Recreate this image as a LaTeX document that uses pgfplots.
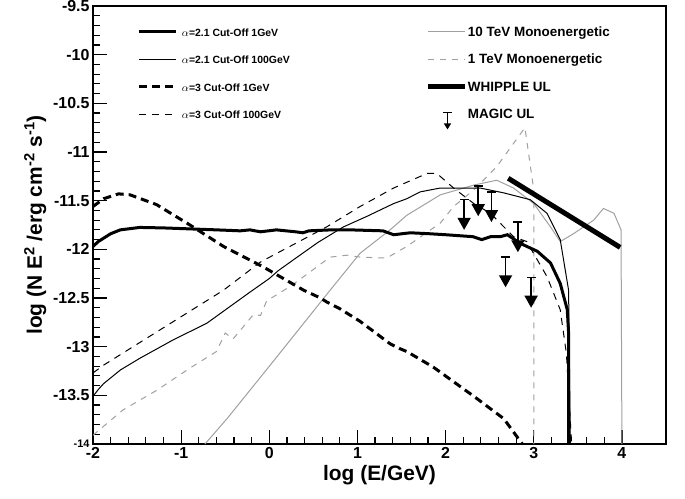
\documentclass[border=0pt]{standalone}
\usepackage{fontspec}
\setmainfont{Liberation Sans}
\usepackage{pgfplots}
\pgfplotsset{compat=1.18}
\usetikzlibrary{arrows.meta}
\definecolor{rootgray}{RGB}{160,160,160}

\begin{document}
\begin{tikzpicture}
\begin{axis}[
  at={(0bp,0bp)}, anchor=south west,
  scale only axis, width=573bp, height=438bp,
  xmin=-2, xmax=4.5, ymin=-14, ymax=-9.5,
  xtick={-2,-1,0,1,2,3,4},
  ytick={-14,-13.5,-13,-12.5,-12,-11.5,-11,-10.5,-10,-9.5},
  xticklabels={-2,-1,0,1,2,3,4},
  yticklabels={{\fontsize{11}{11}\selectfont -14},-13.5,-13,-12.5,-12,-11.5,-11,-10.5,-10,-9.5},
  minor x tick num=4, minor y tick num=4,
  tick pos=left, tick align=inside,
  major tick length=14bp, minor tick length=7bp,
  every tick/.style={black, line width=1.2bp},
  axis line style={line width=1.5bp},
  /pgf/number format/assume math mode=true,
  tick label style={font=\bfseries\fontsize{16}{16}\selectfont},
  label style={font=\bfseries\fontsize{21}{21}\selectfont},
  xlabel={log (E/GeV)},
  ylabel={log (N E\textsuperscript{2} /erg cm\textsuperscript{-2} s\textsuperscript{-1})},
  legend columns=2,
  legend cell align=left,
  legend image code/.code={\draw[#1] (0bp,0bp) -- (37bp,0bp);},
  legend style={draw=none, fill=none, inner sep=0pt, outer sep=0pt,
    at={(rel axis cs:0.0785,0.975)}, anchor=north west,
    column sep=8bp, row sep=-2.5bp, font=\bfseries,
    nodes={inner sep=0pt, text height=19.5bp, text depth=10.5bp}},
]
% legend
\addlegendimage{black, line width=3bp}
\addlegendentry{\makebox[232bp][l]{\hspace*{-4bp}\fontsize{10.5}{10.5}\selectfont$\alpha$=2.1 Cut-Off 1GeV}}
\addlegendimage{rootgray, line width=1bp}
\addlegendentry{\hspace*{-8bp}\fontsize{13.5}{13.5}\selectfont 10 TeV Monoenergetic}
\addlegendimage{black, line width=1bp}
\addlegendentry{\makebox[232bp][l]{\hspace*{-4bp}\fontsize{10.5}{10.5}\selectfont$\alpha$=2.1 Cut-Off 100GeV}}
\addlegendimage{rootgray, line width=1bp, dash pattern=on 6bp off 6bp}
\addlegendentry{\hspace*{-8bp}\fontsize{13.5}{13.5}\selectfont 1 TeV Monoenergetic}
\addlegendimage{black, line width=3bp, dash pattern=on 8bp off 5bp}
\addlegendentry{\makebox[232bp][l]{\hspace*{-4bp}\fontsize{10.5}{10.5}\selectfont$\alpha$=3 Cut-Off 1GeV}}
\addlegendimage{black, line width=5bp}
\addlegendentry{\hspace*{-8bp}\fontsize{13.5}{13.5}\selectfont WHIPPLE UL}
\addlegendimage{black, line width=1bp, dash pattern=on 7bp off 6bp}
\addlegendentry{\makebox[232bp][l]{\hspace*{-4bp}\fontsize{10.5}{10.5}\selectfont$\alpha$=3 Cut-Off 100GeV}}
\addlegendimage{legend image code/.code={
    \path[draw=none, fill=none] (0bp,-15bp) rectangle (37bp,15bp);
    \draw[black, line width=1.2bp] (14.5bp,2bp) -- (23.5bp,2bp);
    \draw[black, line width=1.2bp, -{Triangle[width=7bp,length=6bp]}] (19bp,2bp) -- (19bp,-15bp);}}
\addlegendentry{\hspace*{-8bp}\fontsize{13.5}{13.5}\selectfont MAGIC UL}

% 10 TeV monoenergetic
\addplot[forget plot, rootgray, line width=1bp] coordinates {
 (-0.73,-14.0) (-0.48,-13.74) (0.01,-13.19) (0.69,-12.42) (1.03,-12.04)
 (1.37,-11.80) (1.56,-11.65) (1.94,-11.44) (2.32,-11.34) (2.58,-11.29)
 (2.77,-11.37) (3.0,-11.53) (3.19,-11.77) (3.30,-11.92) (3.45,-11.84)
 (3.68,-11.70) (3.79,-11.58) (3.91,-11.63) (3.99,-11.80) (4.0,-14.0)};
% 1 TeV monoenergetic
\addplot[forget plot, rootgray, line width=1bp, dash pattern=on 6bp off 6bp] coordinates {
 (-2,-13.91) (-1.66,-13.65) (-1.28,-13.45) (-0.90,-13.22) (-0.60,-13.05)
 (-0.50,-12.86) (-0.41,-12.92) (-0.18,-12.67) (-0.10,-12.68) (-0.03,-12.53)
 (0.24,-12.38) (0.69,-12.08) (0.88,-12.06) (1.03,-12.08) (1.33,-12.09)
 (1.56,-11.97) (1.94,-11.73) (2.09,-11.56) (2.32,-11.39) (2.58,-11.15)
 (2.90,-10.75) (3.0,-11.39) (3.0,-14.0)};
% alpha=2.1 cut-off 100 GeV
\addplot[forget plot, black, line width=1bp] coordinates {
 (-2,-13.51) (-1.94,-13.44) (-1.88,-13.38) (-1.69,-13.24) (-1.47,-13.12)
 (-1.09,-12.93) (-0.71,-12.76) (-0.22,-12.44) (0.0,-12.30) (0.1,-12.22)
 (0.27,-12.11) (0.55,-11.93) (0.84,-11.77) (1.11,-11.66) (1.41,-11.53)
 (1.56,-11.48) (1.71,-11.41) (1.94,-11.37) (2.09,-11.37) (2.39,-11.37)
 (2.66,-11.42) (2.96,-11.49) (3.15,-11.63) (3.30,-11.90) (3.395,-12.42)
 (3.415,-14.0)};
% alpha=3 cut-off 100 GeV
\addplot[forget plot, black, line width=1bp, dash pattern=on 7bp off 6bp] coordinates {
 (-2,-13.27) (-1.88,-13.19) (-0.52,-12.42) (-0.10,-12.13) (0.65,-11.77)
 (1.03,-11.56) (1.41,-11.37) (1.79,-11.22) (1.90,-11.22) (2.09,-11.37)
 (2.32,-11.53) (2.51,-11.63) (2.77,-11.87) (2.92,-11.92) (3.15,-12.28)
 (3.30,-12.62) (3.37,-13.07) (3.43,-14.0)};
% alpha=3 cut-off 1 GeV
\addplot[forget plot, black, line width=3bp, dash pattern=on 8bp off 5bp] coordinates {
 (-2,-11.56) (-1.88,-11.48) (-1.71,-11.43) (-1.58,-11.44) (-1.28,-11.54)
 (-0.90,-11.75) (-0.52,-11.97) (-0.07,-12.18) (0.39,-12.42) (0.58,-12.50)
 (0.65,-12.54) (0.80,-12.61) (1.03,-12.74) (1.37,-12.97) (1.48,-13.02)
 (1.56,-13.05) (1.86,-13.21) (2.32,-13.51) (2.66,-13.74) (2.87,-14.0)};
% alpha=2.1 cut-off 1 GeV
\addplot[forget plot, black, line width=3bp] coordinates {
 (-2,-11.97) (-1.94,-11.92) (-1.8,-11.84) (-1.69,-11.80) (-1.47,-11.775)
 (-1.2,-11.78) (-0.9,-11.79) (-0.6,-11.80) (-0.33,-11.81) (-0.22,-11.80)
 (-0.10,-11.82) (0.08,-11.80) (0.3,-11.82) (0.38,-11.83) (0.45,-11.81)
 (0.7,-11.80) (0.92,-11.80) (1.29,-11.81) (1.41,-11.85) (1.60,-11.83)
 (1.82,-11.84) (2.0,-11.85) (2.31,-11.87) (2.41,-11.90) (2.51,-11.87)
 (2.62,-11.87) (2.70,-11.85) (2.85,-11.94) (3.04,-12.02) (3.19,-12.14)
 (3.30,-12.35) (3.38,-12.62) (3.395,-12.86) (3.395,-14.0)};
% WHIPPLE UL
\addplot[forget plot, black, line width=5bp] coordinates {(2.71,-11.27) (3.98,-11.98)};
% MAGIC UL
\addplot[forget plot, only marks, mark=-, mark size=4.5bp, mark options={black, line width=1.5bp}] coordinates {
 (2.21,-11.49) (2.37,-11.35) (2.52,-11.41) (2.82,-11.72) (2.68,-12.08) (2.97,-12.29)};
\addplot[forget plot, black, line width=1.5bp, quiver={u=0, v=-0.31},
  -{Triangle[width=13bp,length=12bp]}] coordinates {
 (2.21,-11.49) (2.37,-11.35) (2.52,-11.41) (2.82,-11.72) (2.68,-12.08) (2.97,-12.29)};
\end{axis}
\pgfresetboundingbox
\path[use as bounding box] (-93bp,-55bp) rectangle (592bp,444bp);
\end{tikzpicture}
\end{document}
